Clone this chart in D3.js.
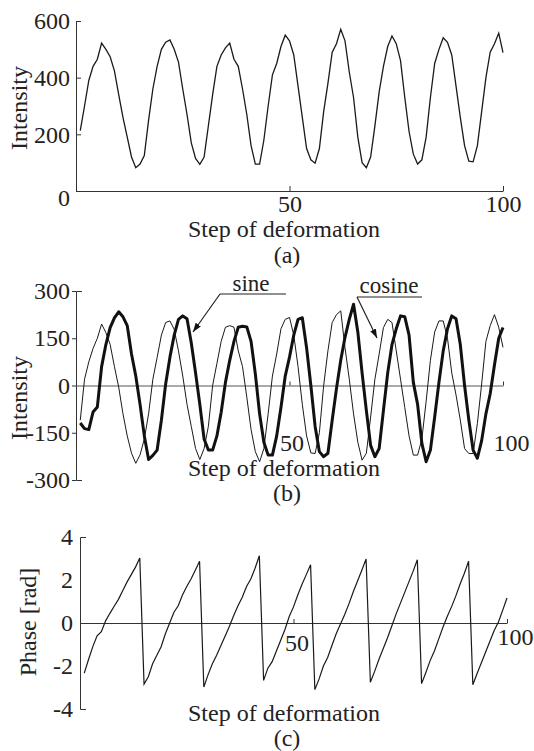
<!DOCTYPE html>
<html><head><meta charset="utf-8">
<script src="https://cdn.jsdelivr.net/npm/d3@7"></script>
<style>
body{margin:0;background:#fff}
svg{display:block}
text{font-family:"Liberation Serif","Times New Roman",serif;fill:#222}
</style>
</head><body>
<script>
// ---- data ----
const steps = d3.range(1, 101);
const intensityA = [213,300,390,440,465,522,500,474,424,340,260,190,120,82,95,125,250,360,440,500,
  525,533,500,455,360,270,170,115,94,120,230,340,440,480,505,522,465,440,360,270,
  160,95,95,180,300,410,450,510,550,530,480,370,260,150,110,98,150,280,380,490,
  520,571,530,420,330,190,100,82,120,230,350,440,510,547,520,460,330,210,130,95,
  110,190,330,450,500,541,525,480,370,260,160,105,103,160,280,400,490,520,557,488];
const sineB = [-119,-137,-140,-84,-68,60,130,184,215,234,218,190,100,30,-60,-160,-235,-222,-205,-110,
  5,90,160,210,221,212,135,40,-60,-170,-205,-205,-160,-85,10,80,140,185,188,186,
  140,37,-90,-180,-221,-221,-160,-70,30,90,160,210,215,120,0,-130,-210,-226,-215,-110,
  -10,80,153,210,258,170,40,-80,-190,-226,-200,-79,40,130,180,221,218,160,10,-60,
  -184,-242,-205,-100,10,110,180,221,212,130,0,-110,-205,-231,-175,-90,-26,65,150,184];
const cosineB = [-110,20,75,118,150,195,168,130,60,-5,-90,-160,-215,-247,-220,-170,-90,20,89,160,
  200,205,178,110,30,-60,-130,-200,-235,-200,-130,0,70,140,185,190,185,110,60,-37,
  -140,-210,-242,-200,-90,30,100,180,210,216,160,60,-60,-160,-214,-216,-150,0,110,200,
  225,237,120,20,-90,-180,-237,-215,-100,20,100,184,210,200,110,20,-70,-160,-221,-221,
  -170,-50,80,170,205,205,150,40,-30,-110,-200,-216,-216,-120,5,140,190,225,185,121];
const phaseC = [-2.33,-1.70,-1.10,-0.60,-0.40,0.10,0.45,0.78,1.10,1.50,1.90,2.25,2.60,3.02,-2.84,-2.50,-1.90,-1.50,-1.10,-0.50,
  0.00,0.50,0.80,1.30,1.70,2.05,2.45,2.87,-2.98,-2.40,-1.90,-1.50,-1.05,-0.60,-0.15,0.35,0.80,1.20,1.70,2.05,
  2.55,3.13,-2.67,-2.10,-1.80,-1.30,-0.80,-0.30,0.30,0.75,1.30,1.80,2.25,2.71,-3.10,-2.60,-2.00,-1.60,-1.05,-0.50,
  -0.05,0.40,0.90,1.45,1.95,2.45,2.98,-2.76,-2.25,-1.70,-1.20,-0.70,-0.15,0.40,0.90,1.40,1.90,2.40,2.94,-2.82,
  -2.30,-1.75,-1.30,-0.75,-0.20,0.30,0.75,1.25,1.80,2.30,2.87,-2.87,-2.35,-1.85,-1.35,-0.85,-0.35,0.05,0.60,1.16];
const yTicksA = [0, 200, 400, 600];
const yTicksB = [-300, -150, 0, 150, 300];
const yTicksC = [-4, -2, 0, 2, 4];
const xTicks = [50, 100];
const xLabel = "Step of deformation";
const panelLabels = ["(a)", "(b)", "(c)"];

// ---- drawing ----
const W = 534, H = 751, FS = 24;
const fmt = d => String(d);   // plain hyphen minus as in the reference
const svg = d3.select("body").append("svg").attr("width", W).attr("height", H);
svg.append("rect").attr("width", W).attr("height", H).attr("fill", "#fff");
const defs = svg.append("defs");
defs.append("marker").attr("id", "arr").attr("viewBox", "0 0 10 10")
  .attr("refX", 10).attr("refY", 5).attr("markerWidth", 9).attr("markerHeight", 9)
  .attr("markerUnits", "userSpaceOnUse").attr("orient", "auto")
  .append("path").attr("d", "M0,1.5L10,5L0,8.5Z").attr("fill", "#111");

function styleAxis(g) {
  g.selectAll("path,line").attr("stroke", "#333").attr("stroke-width", 1);
  g.selectAll("text").attr("font-size", FS).attr("font-family", '"Liberation Serif",serif').attr("fill", "#222");
}

// Panel (a)
const xA = d3.scaleLinear([0, 100], [76, 503]);
const yA = d3.scaleLinear([0, 600], [191, 21]);
const gA = svg.append("g");
gA.append("g").attr("transform", `translate(76,0)`)
  .call(d3.axisLeft(yA).tickValues(yTicksA).tickSizeInner(-5).tickSizeOuter(0).tickPadding(6).tickFormat(fmt))
  .call(styleAxis)
  .call(g => g.selectAll(".tick text").filter(d => d === 0).attr("dy", "0.62em"));
gA.append("g").attr("transform", `translate(0,191)`)
  .call(d3.axisBottom(xA).tickValues(xTicks).tickSizeInner(-5).tickSizeOuter(0).tickPadding(4))
  .call(styleAxis);
gA.append("path").datum(intensityA)
  .attr("d", d3.line().x((d, i) => xA(steps[i])).y(d => yA(d)))
  .attr("fill", "none").attr("stroke", "#1a1a1a").attr("stroke-width", 1.3);
gA.append("text").attr("transform", "translate(19,108) rotate(-90)").attr("text-anchor", "middle")
  .attr("dominant-baseline", "central").attr("font-size", FS).text("Intensity");
gA.append("text").attr("x", 284).attr("y", 229).attr("text-anchor", "middle")
  .attr("dominant-baseline", "central").attr("font-size", FS).text(xLabel);
gA.append("text").attr("x", 287).attr("y", 255).attr("text-anchor", "middle")
  .attr("dominant-baseline", "central").attr("font-size", FS).text(panelLabels[0]);

// Panel (b)
const xB = d3.scaleLinear([0, 100], [76, 503]);
const yB = d3.scaleLinear([-300, 300], [480, 291]);
const gB = svg.append("g");
gB.append("g").attr("transform", `translate(76,0)`)
  .call(d3.axisLeft(yB).tickValues(yTicksB).tickSizeInner(4).tickSizeOuter(-6).tickPadding(2).tickFormat(fmt))
  .call(styleAxis);
gB.append("g").attr("transform", `translate(0,${yB(0)})`)
  .call(d3.axisBottom(xB).tickValues(xTicks).tickSizeInner(-4).tickSizeOuter(0).tickPadding(48))
  .call(styleAxis)
  .call(g => g.select(".domain").attr("stroke", "#555"))
  .call(g => g.selectAll(".tick text").attr("dx", d => d === 100 ? 8 : 2));
gB.append("path").datum(cosineB)
  .attr("d", d3.line().x((d, i) => xB(steps[i])).y(d => yB(d)))
  .attr("fill", "none").attr("stroke", "#1a1a1a").attr("stroke-width", 1);
gB.append("path").datum(sineB)
  .attr("d", d3.line().x((d, i) => xB(steps[i])).y(d => yB(d)))
  .attr("fill", "none").attr("stroke", "#111").attr("stroke-width", 3).attr("stroke-linejoin", "round");
gB.append("text").attr("transform", "translate(19,398) rotate(-90)").attr("text-anchor", "middle")
  .attr("dominant-baseline", "central").attr("font-size", FS).text("Intensity");
gB.append("text").attr("x", 284).attr("y", 468).attr("text-anchor", "middle")
  .attr("dominant-baseline", "central").attr("font-size", FS).text(xLabel);
gB.append("text").attr("x", 287).attr("y", 493).attr("text-anchor", "middle")
  .attr("dominant-baseline", "central").attr("font-size", FS).text(panelLabels[1]);
// annotations
gB.append("text").attr("x", 251).attr("y", 291).attr("text-anchor", "middle").attr("font-size", 23).text("sine");
gB.append("line").attr("x1", 220).attr("y1", 294).attr("x2", 286).attr("y2", 294).attr("stroke", "#222").attr("stroke-width", 1.2);
gB.append("line").attr("x1", 220).attr("y1", 294).attr("x2", 193).attr("y2", 332).attr("stroke", "#222").attr("stroke-width", 1.2).attr("marker-end", "url(#arr)");
gB.append("text").attr("x", 389).attr("y", 293).attr("text-anchor", "middle").attr("font-size", 23).text("cosine");
gB.append("line").attr("x1", 357).attr("y1", 297).attr("x2", 422).attr("y2", 297).attr("stroke", "#222").attr("stroke-width", 1.2);
gB.append("line").attr("x1", 357).attr("y1", 297).attr("x2", 377).attr("y2", 338).attr("stroke", "#222").attr("stroke-width", 1.2).attr("marker-end", "url(#arr)");

// Panel (c)
const xC = d3.scaleLinear([0, 100], [80, 507]);
const yC = d3.scaleLinear([-4, 4], [709, 537]);
const gC = svg.append("g");
gC.append("g").attr("transform", `translate(80,0)`)
  .call(d3.axisLeft(yC).tickValues(yTicksC).tickSizeInner(0).tickSizeOuter(-6).tickPadding(7).tickFormat(fmt))
  .call(styleAxis);
gC.append("g").attr("transform", `translate(0,${yC(0)})`)
  .call(d3.axisBottom(xC).tickValues(xTicks).tickSizeInner(-4).tickSizeOuter(0).tickPadding(11))
  .call(styleAxis)
  .call(g => g.selectAll(".tick text").attr("dx", d => d === 100 ? 8 : 3).attr("dy", d => d === 100 ? "0.45em" : "0.71em"));
gC.append("path").datum(phaseC)
  .attr("d", d3.line().x((d, i) => xC(steps[i])).y(d => yC(d)))
  .attr("fill", "none").attr("stroke", "#1a1a1a").attr("stroke-width", 1.2);
gC.append("text").attr("transform", "translate(28,622) rotate(-90)").attr("text-anchor", "middle")
  .attr("dominant-baseline", "central").attr("font-size", FS).text("Phase [rad]");
gC.append("text").attr("x", 284).attr("y", 713).attr("text-anchor", "middle")
  .attr("dominant-baseline", "central").attr("font-size", FS).text(xLabel);
gC.append("text").attr("x", 287).attr("y", 738).attr("text-anchor", "middle")
  .attr("dominant-baseline", "central").attr("font-size", FS).text(panelLabels[2]);
</script>
</body></html>
